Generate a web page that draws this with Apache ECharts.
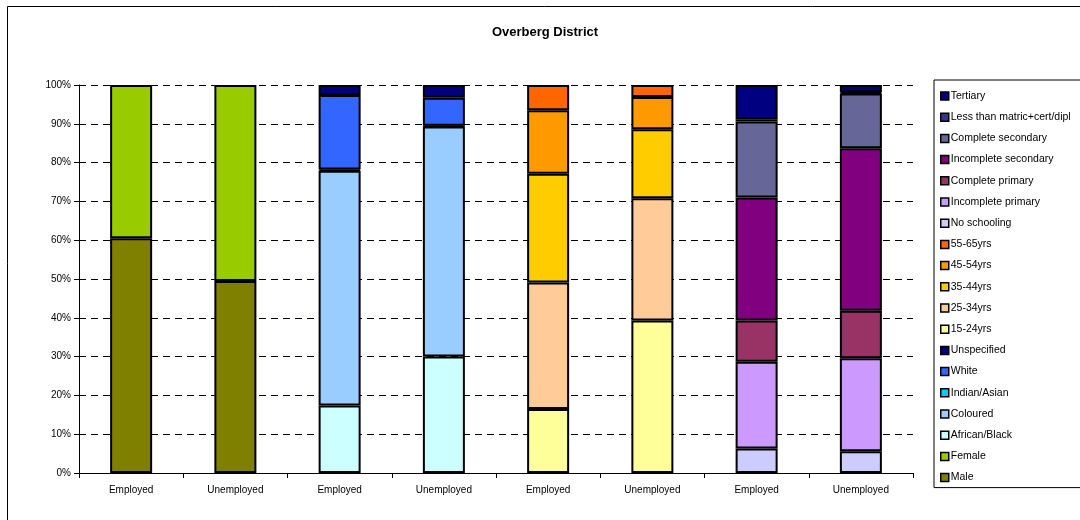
<!DOCTYPE html>
<html>
<head>
<meta charset="utf-8">
<script src="https://cdn.jsdelivr.net/npm/echarts@6/dist/echarts.min.js"></script>
<style>html,body{margin:0;padding:0;background:#fff}#c{width:1080px;height:520px}</style>
</head>
<body>
<div id="c"></div>
<script>
var categories = ['Employed','Unemployed','Employed','Unemployed','Employed','Unemployed','Employed','Unemployed'];
var yTicks = ['0%','10%','20%','30%','40%','50%','60%','70%','80%','90%','100%'];

// gender (columns 0,1)
var male = [60.5, 49.5];
var female = [39.5, 50.5];
// race (columns 2,3)
var africanBlack = [17.4, 30.0];
var coloured = [60.5, 59.3];
var indianAsian = [0.3, 0.2];
var white = [19.2, 7.2];
var unspecified = [2.6, 3.3];
// age (columns 4,5)
var age15_24 = [16.5, 39.3];
var age25_34 = [32.6, 31.5];
var age35_44 = [28.0, 17.8];
var age45_54 = [16.4, 8.3];
var age55_65 = [6.5, 3.1];
// education (columns 6,7)
var noSchooling = [6.3, 5.6];
var incompletePrimary = [22.4, 24.0];
var completePrimary = [10.6, 12.2];
var incompleteSecondary = [31.7, 41.9];
var completeSecondary = [19.6, 14.1];
var lessThanMatric = [0.6, 0.3];
var tertiary = [8.8, 1.9];

var seriesDefs = [
  ['Male', male, 0, '#808000'],
  ['Female', female, 0, '#99CC00'],
  ['African/Black', africanBlack, 2, '#CCFFFF'],
  ['Coloured', coloured, 2, '#99CCFF'],
  ['Indian/Asian', indianAsian, 2, '#00CCFF'],
  ['White', white, 2, '#3366FF'],
  ['Unspecified', unspecified, 2, '#000080'],
  ['15-24yrs', age15_24, 4, '#FFFF99'],
  ['25-34yrs', age25_34, 4, '#FFCC99'],
  ['35-44yrs', age35_44, 4, '#FFCC00'],
  ['45-54yrs', age45_54, 4, '#FF9900'],
  ['55-65yrs', age55_65, 4, '#FF6600'],
  ['No schooling', noSchooling, 6, '#CCCCFF'],
  ['Incomplete primary', incompletePrimary, 6, '#CC99FF'],
  ['Complete primary', completePrimary, 6, '#993366'],
  ['Incomplete secondary', incompleteSecondary, 6, '#800080'],
  ['Complete secondary', completeSecondary, 6, '#666699'],
  ['Less than matric+cert/dipl', lessThanMatric, 6, '#333399'],
  ['Tertiary', tertiary, 6, '#000080']
];

var series = seriesDefs.map(function (d) {
  var data = categories.map(function () { return '-'; });
  data[d[2]] = d[1][0];
  data[d[2] + 1] = d[1][1];
  return {
    name: d[0], type: 'bar', stack: 'all', data: data,
    barWidth: 42,
    itemStyle: { color: d[3], borderColor: '#000', borderWidth: 2 },
    emphasis: { disabled: true },
    animation: false
  };
});

var legendNames = seriesDefs.map(function (d) { return d[0]; }).reverse();

var chart = echarts.init(document.getElementById('c'), null, { renderer: 'canvas' });
chart.setOption({
  backgroundColor: '#fff',
  animation: false,
  textStyle: { fontFamily: 'Liberation Sans, Arial, sans-serif' },
  title: {
    text: 'Overberg District', left: 540, top: 21, textAlign: 'center',
    textStyle: { fontSize: 13, fontWeight: 'bold', color: '#000', fontFamily: 'Liberation Sans, Arial, sans-serif' }
  },
  graphic: [{
    type: 'rect', shape: { x: 7.5, y: 6.5, width: 1100, height: 600 },
    style: { fill: 'none', stroke: '#000', lineWidth: 1 }, silent: true, z: -1
  }],
  legend: {
    orient: 'vertical', left: 934, top: 80, width: 143,
    data: legendNames,
    itemWidth: 8, itemHeight: 8, itemGap: 7.2,
    padding: [9, 20, 3, 6],
    borderColor: '#000', borderWidth: 1,
    selectedMode: false,
    icon: 'rect',
    itemStyle: { borderColor: '#000', borderWidth: 1.5 },
    textStyle: { fontSize: 10.5, color: '#000', lineHeight: 14, padding: [0, 0, 0, -3], fontFamily: 'Liberation Sans, Arial, sans-serif' }
  },
  grid: { left: 79, right: 167, top: 85, bottom: 47, containLabel: false },
  xAxis: {
    type: 'category', data: categories,
    axisLine: { lineStyle: { color: '#000', width: 1 } },
    axisTick: { show: true, length: 5, lineStyle: { color: '#000' } },
    axisLabel: { fontSize: 10, color: '#000', margin: 12 }
  },
  yAxis: {
    type: 'value', min: 0, max: 100, interval: 10,
    axisLine: { show: true, lineStyle: { color: '#000', width: 1 } },
    axisTick: { show: true, length: 5, lineStyle: { color: '#000' } },
    axisLabel: { fontSize: 10, color: '#000', margin: 8,
      formatter: function (v) { return yTicks[Math.round(v / 10)]; } },
    splitLine: { show: true, lineStyle: { color: '#000', type: [7, 5], width: 1 } }
  },
  series: series
});
</script>
</body>
</html>
